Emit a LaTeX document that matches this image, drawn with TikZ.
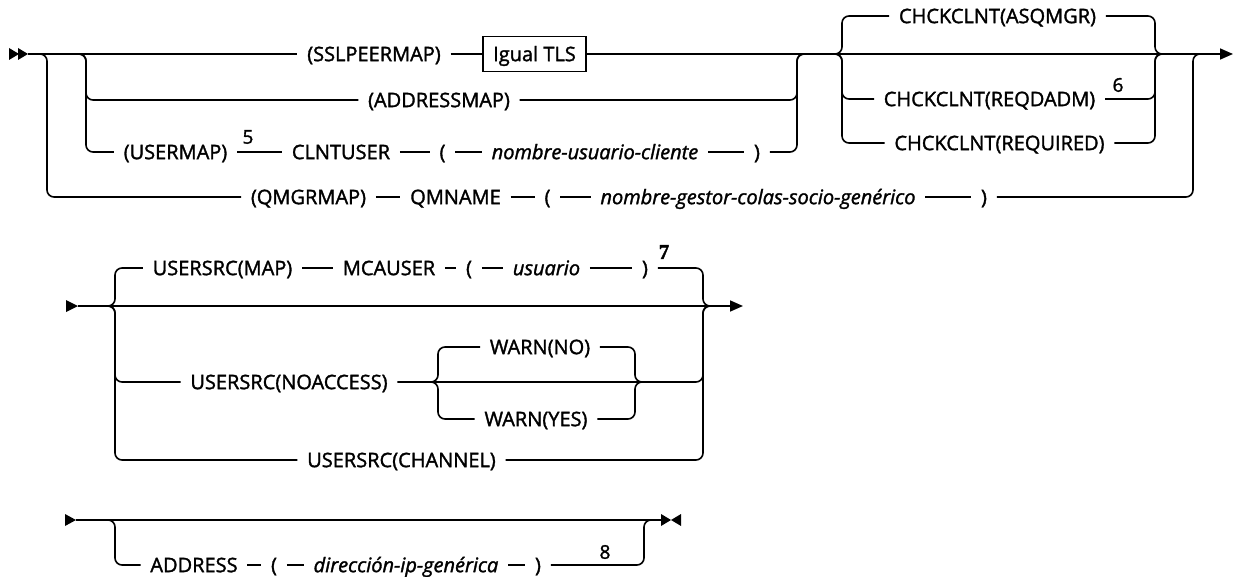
\documentclass[tikz,border=0pt]{standalone}
\usepackage{fontspec}
\setmainfont{Open Sans}[FakeBold=1.6]
\newfontfamily\serifbf{Liberation Serif}[FakeBold=1.5]
\usetikzlibrary{arrows.meta}
\newcommand{\dgfont}{\fontsize{20}{24}\selectfont}
\newcommand{\supfont}{\fontsize{19}{22}\selectfont}
\begin{document}
\begin{tikzpicture}[x=1pt,y=-1pt,line width=1.6pt,
  t/.style={font=\dgfont,inner xsep=9pt,inner ysep=0pt,text height=14.3pt,text depth=0pt},
  it/.style={t,font=\dgfont\itshape},
  supn/.style={font=\supfont,inner sep=0pt},
  supser/.style={font=\serifbf\bfseries\fontsize{21}{24}\selectfont,inner sep=0pt},
  boxn/.style={draw,line width=1.4pt,font=\dgfont,minimum width=103pt,minimum height=35pt,inner sep=0pt,text height=14.3pt,text depth=0pt},
  rc/.style={rounded corners=7pt},
  endtip/.style={-{Triangle[length=13pt,width=11pt]}},
]
\useasboundingbox (0,0) rectangle (1238,577);

% ---------- section 1 ----------
\fill (9,48) -- (19,54) -- (9,60) -- cycle;
\fill (18,48) -- (28,54) -- (18,60) -- cycle;
\coordinate (st1) at (28,54);
\coordinate (end1) at (1233,54);
\coordinate (bo) at (40,54);
\coordinate (bi) at (79,54);
\node[t] (ssl) at (374,54) {(SSLPEERMAP)};
\node[boxn] (tls) at (534.5,54) {Igual TLS};
\draw (st1) -- (ssl.west);
\draw (ssl.east) -- (tls.west);
\draw[endtip] (tls.east) -- (end1);

% ADDRESSMAP
\node[t] (adm) at (439,100) {(ADDRESSMAP)};
\draw[rc] (bi) -| (86,100) -- (adm.west);
\draw[rc] (adm.east) -| (797,54) -- (804,54);

% USERMAP
\node[t] (um) at (175.5,152) {(USERMAP)};
\node[supn] (f5) at (248,137) {5};
\node[t] (cu) at (341,152) {CLNTUSER};
\node[t] (lp3) at (442.5,152) {(};
\node[it] (nuc) at (595,152) {nombre-usuario-cliente};
\node[t] (rp3) at (757,152) {)};
\draw[rc] (bi) -| (86,152) -- (um.west);
\draw (um.east) -- (cu.west);
\draw (cu.east) -- (lp3.west);
\draw (lp3.east) -- (nuc.west);
\draw (nuc.east) -- (rp3.west);
\draw[rc] (rp3.east) -| (797,54) -- (804,54);

% QMGRMAP
\node[t] (qmg) at (308.5,197) {(QMGRMAP)};
\node[t] (qmn) at (455.5,197) {QMNAME};
\node[t] (lp4) at (547.5,197) {(};
\node[it] (ngc) at (758,197) {nombre-gestor-colas-socio-genérico};
\node[t] (rp4) at (984,197) {)};
\draw[rc] (bo) -| (47,197) -- (qmg.west);
\draw (qmg.east) -- (qmn.west);
\draw (qmn.east) -- (lp4.west);
\draw (lp4.east) -- (ngc.west);
\draw (ngc.east) -- (rp4.west);
\draw[rc] (rp4.east) -| (1193,54) -- (1200,54);

% CHCKCLNT
\coordinate (cl) at (835,54);
\node[t] (ck1) at (997.5,16) {CHCKCLNT(ASQMGR)};
\node[t] (ck2) at (989.5,99) {CHCKCLNT(REQDADM)};
\node[supn] (f6) at (1118,85) {6};
\node[t] (ck3) at (999.5,143) {CHCKCLNT(REQUIRED)};
\draw[rc] (cl) -| (842,16) -- (ck1.west);
\draw[rc] (ck1.east) -| (1155,54) -- (1162,54);
\draw[rc] (cl) -| (842,99) -- (ck2.west);
\draw[rc] (ck2.east) -| (1155,54) -- (1162,54);
\draw[rc] (cl) -| (842,143) -- (ck3.west);
\draw[rc] (ck3.east) -| (1155,54) -- (1162,54);

% ---------- section 2 ----------
\fill (66,300) -- (78,306) -- (66,312) -- cycle;
\coordinate (st2) at (78,306);
\coordinate (end2) at (743,306);
\coordinate (b2) at (108,306);
\draw[endtip] (st2) -- (end2);

\node[t] (usm) at (222.5,268) {USERSRC(MAP)};
\node[t] (mca) at (389,268) {MCAUSER};
\node[t] (lp5) at (469,268) {(};
\node[it] (usu) at (546.5,268) {usuario};
\node[t] (rp5) at (645,268) {)};
\node[supser] (f7) at (664,252) {7};
\draw[rc] (b2) -| (115,268) -- (usm.west);
\draw (usm.east) -- (mca.west);
\draw (mca.east) -- (lp5.west);
\draw (lp5.east) -- (usu.west);
\draw (usu.east) -- (rp5.west);
\draw[rc] (rp5.east) -| (703,306) -- (710,306);

\node[t] (nac) at (289,382) {USERSRC(NOACCESS)};
\draw[rc] (b2) -| (115,382) -- (nac.west);
\draw[rc] (nac.east) -| (703,306) -- (710,306);

\coordinate (wl) at (431,382);
\node[t] (wno) at (540,347) {WARN(NO)};
\node[t] (wye) at (536,419) {WARN(YES)};
\draw[rc] (wl) -| (438,347) -- (wno.west);
\draw[rc] (wno.east) -| (635,382) -- (642,382);
\draw[rc] (wl) -| (438,419) -- (wye.west);
\draw[rc] (wye.east) -| (635,382) -- (642,382);

\node[t] (chn) at (401.5,460) {USERSRC(CHANNEL)};
\draw[rc] (b2) -| (115,460) -- (chn.west);
\draw[rc] (chn.east) -| (703,306) -- (710,306);

% ---------- section 3 ----------
\fill (65,514) -- (76,520) -- (65,526) -- cycle;
\coordinate (st3) at (76,520);
\coordinate (end3) at (662,520);
\coordinate (b3) at (108,520);
\draw (st3) -- (end3);
\fill (661,514) -- (671,520) -- (661,526) -- cycle;
\fill (681,514) -- (671,520) -- (681,526) -- cycle;

\node[t] (adr) at (194,565) {ADDRESS};
\node[t] (lp6) at (274,565) {(};
\node[it] (dip) at (406,565) {dirección-ip-genérica};
\node[t] (rp6) at (538,565) {)};
\node[supn] (f8) at (605,552) {8};
\draw[rc] (b3) -| (115,565) -- (adr.west);
\draw (adr.east) -- (lp6.west);
\draw (lp6.east) -- (dip.west);
\draw (dip.east) -- (rp6.west);
\draw[rc] (rp6.east) -| (644,520) -- (651,520);
\end{tikzpicture}
\end{document}
